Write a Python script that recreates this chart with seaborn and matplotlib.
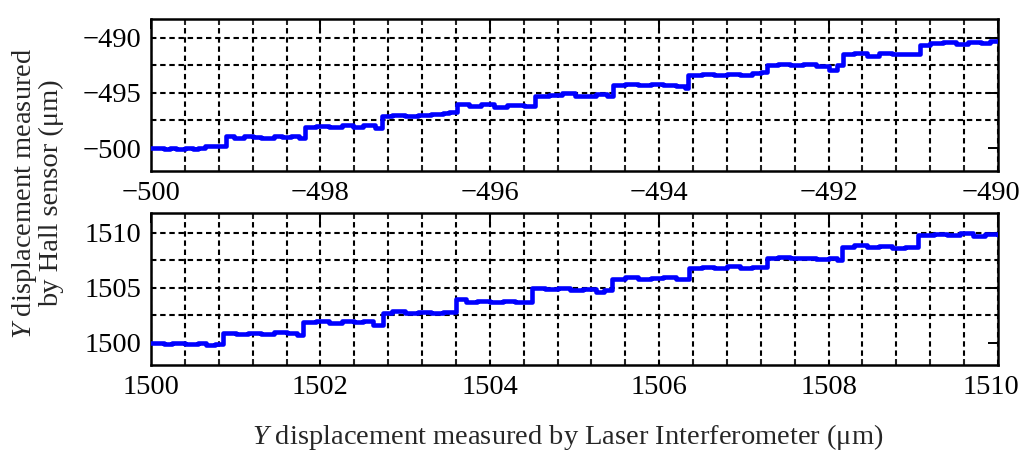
import numpy as np
import pandas as pd
import matplotlib
matplotlib.use("Agg")
import matplotlib.pyplot as plt
import matplotlib.transforms as mtransforms
import seaborn as sns
from matplotlib.ticker import MultipleLocator

# Data (staircase, steps-post)
top_x = [-500.0, -499.85, -499.78, -499.7, -499.6, -499.5, -499.45, -499.36,
         -499.12, -499.02, -498.9, -498.8, -498.7, -498.55, -498.45, -498.35,
         -498.25, -498.18, -498.05, -497.9, -497.75, -497.62, -497.5, -497.42,
         -497.35, -497.27, -497.15, -497.0, -496.85, -496.7, -496.55, -496.48,
         -496.39, -496.25, -496.1, -495.95, -495.8, -495.6, -495.47, -495.3,
         -495.15, -495.0, -494.9, -494.75, -494.62, -494.55, -494.4, -494.25,
         -494.1, -493.95, -493.8, -493.7, -493.66, -493.5, -493.35, -493.2,
         -493.05, -492.9, -492.8, -492.73, -492.6, -492.45, -492.3, -492.15,
         -492.0, -491.9, -491.83, -491.7, -491.55, -491.4, -491.25, -491.1,
         -490.92, -490.8, -490.65, -490.5, -490.35, -490.2, -490.1, -490.0]
top_y = [-500.0, -500.08, -500.0, -500.1, -500.0, -500.08, -499.98, -499.8,
         -498.95, -499.05, -498.92, -499.0, -499.08, -498.95, -499.02, -498.9,
         -499.1, -498.1, -498.02, -498.1, -497.95, -498.05, -497.88, -497.95,
         -498.18, -497.1, -497.0, -497.12, -497.02, -496.95, -496.8, -496.72,
         -496.05, -496.15, -496.05, -496.28, -496.1, -496.2, -495.3, -495.22,
         -495.05, -495.25, -495.3, -495.1, -495.3, -494.3, -494.22, -494.3,
         -494.2, -494.28, -494.35, -494.55, -493.38, -493.3, -493.4, -493.28,
         -493.35, -493.2, -493.1, -492.45, -492.4, -492.5, -492.42, -492.55,
         -492.9, -492.5, -491.45, -491.4, -491.68, -491.38, -491.45, -491.5,
         -490.62, -490.5, -490.42, -490.55, -490.35, -490.48, -490.25, -490.3]

bot_x = [1500.0, 1500.15, 1500.25, 1500.4, 1500.55, 1500.65, 1500.75, 1500.85,
         1501.0, 1501.15, 1501.3, 1501.45, 1501.6, 1501.72, 1501.8, 1501.95,
         1502.1, 1502.25, 1502.4, 1502.5, 1502.62, 1502.74, 1502.85, 1503.0,
         1503.15, 1503.3, 1503.45, 1503.6, 1503.72, 1503.85, 1504.0, 1504.15,
         1504.3, 1504.5, 1504.65, 1504.8, 1504.95, 1505.1, 1505.25, 1505.35,
         1505.44, 1505.6, 1505.75, 1505.9, 1506.05, 1506.2, 1506.35, 1506.5,
         1506.65, 1506.8, 1506.95, 1507.1, 1507.27, 1507.4, 1507.55, 1507.7,
         1507.85, 1508.0, 1508.1, 1508.16, 1508.3, 1508.45, 1508.6, 1508.75,
         1508.9, 1509.06, 1509.25, 1509.4, 1509.55, 1509.7, 1509.85, 1510.0]
bot_y = [1500.0, 1499.88, 1500.02, 1499.9, 1500.0, 1499.8, 1499.92, 1500.9,
         1500.85, 1500.95, 1500.82, 1501.0, 1500.88, 1500.75, 1501.9, 1501.98,
         1501.85, 1502.0, 1501.88, 1501.95, 1501.6, 1502.75, 1502.9, 1502.72,
         1502.8, 1502.7, 1502.78, 1503.95, 1503.7, 1503.85, 1503.75, 1503.82,
         1503.72, 1504.95, 1504.88, 1505.0, 1504.8, 1504.92, 1504.6, 1504.85,
         1505.85, 1505.95, 1505.85, 1505.9, 1505.98, 1505.8, 1506.8, 1506.9,
         1506.82, 1506.95, 1506.8, 1506.85, 1507.7, 1507.82, 1507.68, 1507.75,
         1507.62, 1507.72, 1507.55, 1508.75, 1508.85, 1508.72, 1508.78, 1508.65,
         1508.75, 1509.8, 1509.85, 1509.78, 1510.0, 1509.75, 1509.9, 1509.8]

top_ylim = (-502.1, -488.3)
bot_ylim = (1498.0, 1511.8)
top_yticks = [-500, -495, -490]
bot_yticks = [1500, 1505, 1510]
top_hgrid = [-497.5, -495, -492.5, -490]
bot_hgrid = [1502.5, 1505, 1507.5, 1510]

sns.set_style("white")
plt.rcParams['font.family'] = ['Liberation Serif', 'DejaVu Serif']
plt.rcParams['mathtext.fontset'] = 'custom'
plt.rcParams['mathtext.rm'] = 'Liberation Serif'
plt.rcParams['mathtext.it'] = 'Liberation Serif:italic'
plt.rcParams['axes.unicode_minus'] = True

fig = plt.figure(figsize=(10.24, 4.54), dpi=100)
ax1 = fig.add_axes([0.1475, 0.623, 0.8271, 0.335])
ax2 = fig.add_axes([0.1475, 0.196, 0.8271, 0.335])

grid_ls = (0, (2.6, 1.8))
panels = [
    (ax1, top_x, top_y, (-500, -490), top_ylim, top_yticks, top_hgrid),
    (ax2, bot_x, bot_y, (1500, 1510), bot_ylim, bot_yticks, bot_hgrid),
]

for ax, xs, ys, xlim, ylim, yt, hg in panels:
    df = pd.DataFrame({'x': xs, 'y': ys})
    # vertical grid every 0.4, dashed
    ax.xaxis.set_major_locator(MultipleLocator(2))
    ax.xaxis.set_minor_locator(MultipleLocator(0.4))
    ax.grid(True, which='both', axis='x', color='black', linestyle=grid_ls, linewidth=1.5)
    for h in hg:
        ax.axhline(h, color='black', linestyle=grid_ls, linewidth=1.5, zorder=0.5)
    sns.lineplot(data=df, x='x', y='y', ax=ax, color='#0000ff', linewidth=3.3,
                 drawstyle='steps-post', estimator=None, sort=False, zorder=3)
    ax.set_xlim(*xlim)
    ax.set_ylim(*ylim)
    ax.set_yticks(yt)
    ax.set_xticks(np.arange(xlim[0], xlim[1] + 0.1, 2))
    ax.set_xlabel('')
    ax.set_ylabel('')
    ax.tick_params(axis='both', which='major', direction='in', length=7, width=1.4,
                   labelsize=20.5, top=True, right=True, pad=7, colors='black')
    ax.tick_params(axis='x', which='minor', direction='in', length=4, width=1.4,
                   top=True, bottom=True)
    for s in ax.spines.values():
        s.set_color('black')
        s.set_linewidth(1.8)
    ax.set_axisbelow(True)
    # last x tick label sits a bit left of its tick, as in the reference
    last = ax.get_xticklabels()[-1]
    last.set_transform(last.get_transform() +
                       mtransforms.ScaledTranslation(-7 / 100, 0, fig.dpi_scale_trans))

fig.text(0.036, 1 - 193 / 454,
         '$\\mathit{Y}$ displacement measured\nby Hall sensor (\u03bcm)',
         rotation=90, ha='center', va='center', fontsize=20.5, linespacing=1.0)
fig.text(568 / 1024, 1 - 437 / 454,
         '$\\mathit{Y}$ displacement measured by Laser Interferometer (\u03bcm)',
         ha='center', va='center', fontsize=20.5)

fig.savefig('out.png', dpi=100)
